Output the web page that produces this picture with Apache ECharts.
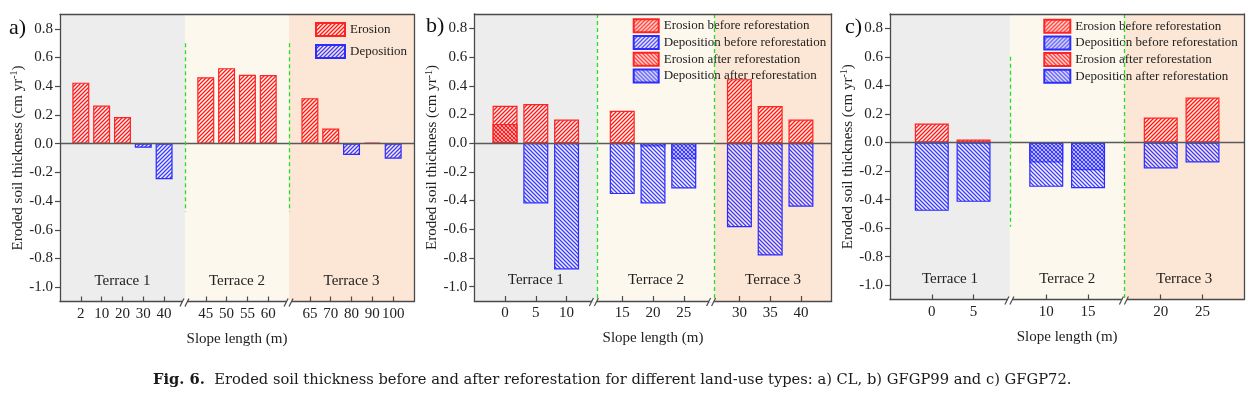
<!DOCTYPE html>
<html><head><meta charset="utf-8">
<script src="https://cdn.jsdelivr.net/npm/echarts@6/dist/echarts.min.js"></script>
<style>html,body{margin:0;padding:0;background:#fff}#c{width:1256px;height:394px}</style>
</head><body><div id="c"></div>
<script>
// ---------------- data ----------------
const terraceNames = ['Terrace 1', 'Terrace 2', 'Terrace 3'];
const yTicks = [-1.0, -0.8, -0.6, -0.4, -0.2, 0, 0.2, 0.4, 0.6, 0.8];

// panel a) CL
const aLabels = ['2', '10', '20', '30', '40', '45', '50', '55', '60', '65', '70', '80', '90', '100'];
const aGroupSizes = [5, 4, 5];
const aErosion    = [0.425, 0.265, 0.185, null, null, 0.463, 0.526, 0.48, 0.478, 0.317, 0.105, null, 0.008, null];
const aDeposition = [null, null, null, -0.028, -0.248, null, null, null, null, null, null, -0.079, null, -0.105];

// panel b) GFGP99
const bLabels = ['0', '5', '10', '15', '20', '25', '30', '35', '40'];
const bGroupSizes = [3, 3, 3];
const bErosionBefore    = [0.26, 0.273, 0.164, 0.226, null, null, 0.446, 0.259, 0.164];
const bDepositionBefore = [null, null, null, null, -0.023, -0.113, null, null, null];
const bErosionAfter     = [0.134, null, null, null, null, null, null, null, null];
const bDepositionAfter  = [null, -0.42, -0.88, -0.355, -0.42, -0.316, -0.586, -0.783, -0.443];

// panel c) GFGP72
const cLabels = ['0', '5', '10', '15', '20', '25'];
const cGroupSizes = [2, 2, 2];
const cErosionBefore    = [0.133, 0.021, null, null, 0.175, 0.315];
const cDepositionBefore = [null, null, -0.14, -0.194, null, null];
const cErosionAfter     = [null, null, null, null, null, null];
const cDepositionAfter  = [-0.479, -0.416, -0.311, -0.32, -0.182, -0.14];

const namesA = ['Erosion', 'Deposition'];
const namesBC = ['Erosion before reforestation', 'Deposition before reforestation',
                 'Erosion after reforestation', 'Deposition after reforestation'];
const yName = 'Eroded soil thickness (cm yr{sup|-1})';
const xName = 'Slope length (m)';
const caption = '{b|Fig. 6.}  Eroded soil thickness before and after reforestation for different land-use types: a) CL, b) GFGP99 and c) GFGP72.';

// ---------------- styles ----------------
const SERIF = 'Liberation Serif';
function hatch(rgb, forward) {
  const s = 4, c = document.createElement('canvas');
  c.width = c.height = s;
  const g = c.getContext('2d');
  g.fillStyle = 'rgba(255,255,255,0.25)';
  g.fillRect(0, 0, s, s);
  g.strokeStyle = rgb; g.lineWidth = 1.3;
  g.beginPath();
  if (forward) {
    g.moveTo(-1, s + 1); g.lineTo(s + 1, -1);
    g.moveTo(-1, 1); g.lineTo(1, -1);
    g.moveTo(s - 1, s + 1); g.lineTo(s + 1, s - 1);
  } else {
    g.moveTo(-1, -1); g.lineTo(s + 1, s + 1);
    g.moveTo(s - 1, -1); g.lineTo(s + 1, 1);
    g.moveTo(-1, s - 1); g.lineTo(1, s + 1);
  }
  g.stroke();
  return { image: c, repeat: 'repeat' };
}
const RED = 'rgba(255,0,0,0.9)', BLUE = 'rgba(0,0,255,0.75)';
const RF = { color: hatch(RED, true),  borderColor: '#ff2424' };
const RB = { color: hatch(RED, false), borderColor: '#ff2424' };
const BF = { color: hatch(BLUE, true),  borderColor: '#2c2cff' };
const BB = { color: hatch(BLUE, false), borderColor: '#2c2cff' };
const bgColors = ['#ededed', '#fcf8ee', '#fce6d5'];

const panels = [
  { labels: aLabels, groups: aGroupSizes, vals: [aErosion, aDeposition], names: namesA, st: [RF, BF],
    grid: { left: 60, top: 14.5, width: 354, height: 287 }, gap: 2, boundOff: 1, barWidth: 17,
    guides: [[0.7, -0.475], [0.7, -0.475]],
    legend: { left: 315, top: 22, itemWidth: 29, itemGap: 7 }, tag: 'a)', tagX: 9, tagY: 29 },
  { labels: bLabels, groups: bGroupSizes, vals: [bErosionBefore, bDepositionBefore, bErosionAfter, bDepositionAfter],
    names: namesBC, st: [RF, BF, RB, BB],
    grid: { left: 474.3, top: 14, width: 357.4, height: 287 }, gap: 1.81, boundOff: 1.0, barWidth: 25,
    guides: [[0.9, -1.1], [0.9, -1.1]],
    legend: { left: 632.7, top: 18.3, itemWidth: 25, itemGap: 1.7 }, tag: 'b)', tagX: 426, tagY: 27 },
  { labels: cLabels, groups: cGroupSizes, vals: [cErosionBefore, cDepositionBefore, cErosionAfter, cDepositionAfter],
    names: namesBC, st: [RF, BF, RB, BB],
    grid: { left: 890, top: 14, width: 354.3, height: 285.5 }, gap: 1.74, boundOff: 0.87, barWidth: 34,
    guides: [[0.6, -0.59], [0.9, -1.1]],
    legend: { left: 1043.3, top: 18.7, itemWidth: 26, itemGap: 1.7 }, tag: 'c)', tagX: 845, tagY: 28 }
];

function layout(groups, gap, boundOff) {
  const pos = [], bounds = [], breaks = [];
  let x = 0;
  groups.forEach((n, g) => {
    for (let i = 0; i < n; i++) pos.push(x + i);
    const last = x + n - 1;
    if (g < groups.length - 1) {
      bounds.push(last + boundOff);
      breaks.push(last + gap / 2);
      x = last + gap;
    }
  });
  return { pos, bounds, breaks, min: -1, max: pos[pos.length - 1] + 1 };
}

const grids = [], xAxes = [], yAxes = [], series = [], legends = [];
const lay = panels.map(p => layout(p.groups, p.gap, p.boundOff));
const axisColor = '#4a4a4a';

panels.forEach((p, k) => {
  const L = lay[k];
  grids.push(Object.assign({}, p.grid));
  const fmt = v => { const i = L.pos.findIndex(q => Math.abs(q - v) < 1e-6); return i >= 0 ? p.labels[i] : ''; };
  xAxes.push({
    gridIndex: k, type: 'value', min: L.min, max: L.max, z: 10,
    axisLine: { onZero: false, lineStyle: { color: axisColor, width: 1.3 } },
    axisTick: { inside: true, length: 5, customValues: L.pos, lineStyle: { color: axisColor, width: 1.2 } },
    axisLabel: { customValues: L.pos, formatter: fmt, fontFamily: SERIF, fontSize: 15, color: '#222', margin: 5 },
    splitLine: { show: false },
    name: xName, nameLocation: 'middle', nameGap: 30,
    nameTextStyle: { fontFamily: SERIF, fontSize: 15, color: '#222' }
  });
  xAxes.push({
    gridIndex: k, type: 'value', position: 'top', min: L.min, max: L.max, z: 10,
    axisLine: { onZero: false, lineStyle: { color: axisColor, width: 1.3 } },
    axisTick: { show: false }, axisLabel: { show: false }, splitLine: { show: false }
  });
  yAxes.push({
    gridIndex: k, type: 'value', min: -1.1, max: 0.9, z: 10,
    axisLine: { onZero: false, lineStyle: { color: axisColor, width: 1.3 } },
    axisTick: { inside: false, length: 5, customValues: yTicks, lineStyle: { color: axisColor, width: 1.2 } },
    axisLabel: { customValues: yTicks, formatter: v => v.toFixed(1), fontFamily: SERIF, fontSize: 15, color: '#222', margin: 7 },
    splitLine: { show: false },
    name: yName, nameLocation: 'middle', nameGap: 34,
    nameTextStyle: { fontFamily: SERIF, fontSize: 15, color: '#222',
      rich: { sup: { fontFamily: SERIF, fontSize: 10, color: '#222', verticalAlign: 'top', lineHeight: 16 } } }
  });
  yAxes.push({
    gridIndex: k, type: 'value', position: 'right', min: -1.1, max: 0.9, z: 10,
    axisLine: { onZero: false, lineStyle: { color: axisColor, width: 1.3 } },
    axisTick: { show: false }, axisLabel: { show: false }, splitLine: { show: false }
  });

  // background areas + guide lines
  const edges = [L.min].concat(L.bounds, [L.max]);
  const areas = terraceNames.map((t, i) => [
    { xAxis: edges[i], name: t, itemStyle: { color: bgColors[i] } },
    { xAxis: edges[i + 1] }
  ]);
  const lines = [{ yAxis: 0, lineStyle: { color: '#5a5a5a', width: 1.3, type: 'solid' } }];
  L.bounds.forEach((b, i) => {
    lines.push([
      { coord: [b, p.guides[i][0]], lineStyle: { color: '#22e022', width: 1.3, type: [4, 3] } },
      { coord: [b, p.guides[i][1]] }
    ]);
  });

  p.vals.forEach((vals, s) => {
    const data = [];
    vals.forEach((v, i) => { if (v != null) data.push([L.pos[i], v]); });
    const ser = {
      type: 'bar', name: p.names[s], xAxisIndex: 2 * k, yAxisIndex: 2 * k,
      data, barWidth: p.barWidth, barGap: '-100%',
      itemStyle: { color: p.st[s].color, borderColor: p.st[s].borderColor, borderWidth: 1.2 },
      emphasis: { disabled: true }, silent: true
    };
    if (s === 0) {
      ser.markArea = {
        silent: true, z: 1,
        label: { show: true, position: 'insideBottom', distance: 13, fontFamily: SERIF, fontSize: 15, color: '#222' },
        data: areas
      };
      ser.markLine = { silent: true, symbol: 'none', z: 5, label: { show: false }, data: lines };
    }
    series.push(ser);
  });

  legends.push({
    orient: 'vertical', left: p.legend.left, top: p.legend.top, padding: 0,
    itemWidth: p.legend.itemWidth, itemHeight: 13, itemGap: p.legend.itemGap,
    icon: 'rect', selectedMode: false,
    textStyle: { fontFamily: SERIF, fontSize: 13, color: '#222', lineHeight: 13 },
    data: p.names
  });
});

const chart = echarts.init(document.getElementById('c'));
chart.setOption({
  animation: false,
  backgroundColor: '#fff',
  title: {
    text: caption, left: 153, top: 373, padding: 0,
    textStyle: { fontFamily: 'DejaVu Serif', fontSize: 14.7, fontWeight: 'normal', color: '#1a1a1a',
      rich: { b: { fontFamily: 'DejaVu Serif', fontSize: 14.7, fontWeight: 'bold', color: '#1a1a1a' } } }
  },
  grid: grids, xAxis: xAxes, yAxis: yAxes, series, legend: legends
});

// panel tags and axis break marks
const graphics = [];
panels.forEach((p, k) => {
  graphics.push({ type: 'text', left: p.tagX, top: p.tagY - 12, z: 100,
    style: { text: p.tag, fontFamily: SERIF, fontSize: 22, fill: '#111' } });
  lay[k].breaks.forEach(bx => {
    const pt = chart.convertToPixel({ gridIndex: k }, [bx, -1.1]);
    const cx = pt[0], cy = pt[1];
    graphics.push({ type: 'rect', z: 100, shape: { x: cx - 2.5, y: cy - 1.5, width: 5, height: 3 }, style: { fill: '#fff' } });
    [-3, 2].forEach(o => {
      graphics.push({ type: 'line', z: 101,
        shape: { x1: cx + o - 2, y1: cy + 5, x2: cx + o + 2, y2: cy - 3 },
        style: { stroke: axisColor, lineWidth: 1.2 } });
    });
  });
});
chart.setOption({ graphic: graphics });
</script>
</body></html>
